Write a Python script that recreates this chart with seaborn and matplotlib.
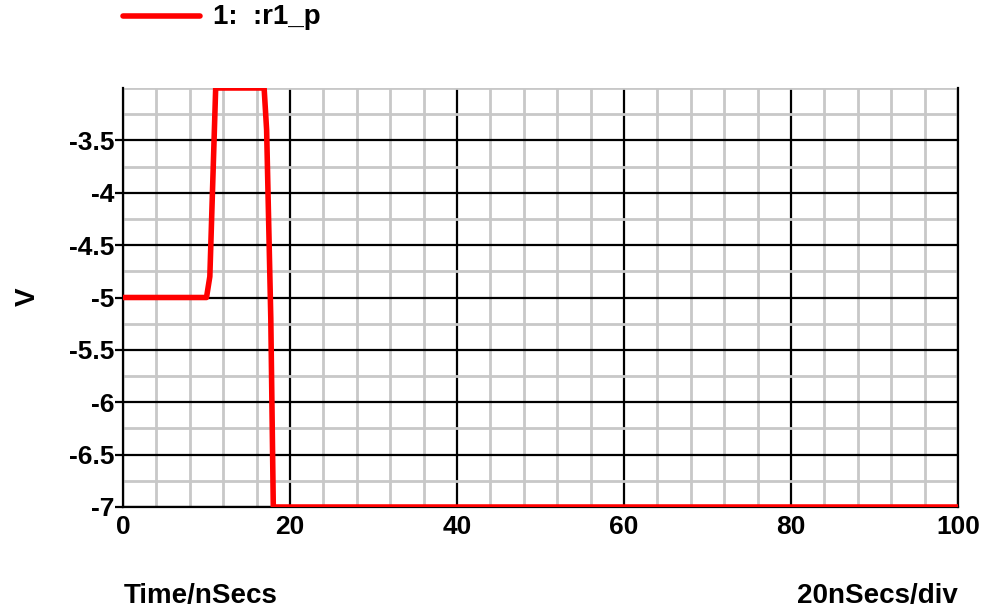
import matplotlib
matplotlib.use("Agg")
import matplotlib.pyplot as plt
import seaborn as sns
import pandas as pd
from matplotlib.lines import Line2D
from matplotlib.ticker import MultipleLocator

sns.set_style("white")
plt.rcParams['font.family'] = ['Liberation Sans', 'DejaVu Sans']
plt.rcParams['font.weight'] = 'bold'
plt.rcParams['text.color'] = 'black'
plt.rcParams['xtick.color'] = 'black'
plt.rcParams['ytick.color'] = 'black'
plt.rcParams['axes.labelcolor'] = 'black'

# data (time in ns, voltage in V)
time_ns = [0.0, 10.0, 10.4, 11.1, 16.9, 17.2, 17.7, 18.0, 100.0]
volts = [-5.0, -5.0, -4.8, -3.0, -3.0, -3.4, -5.2, -7.0, -7.0]
series_name = "1:  :r1_p"
x_ticks = [0, 20, 40, 60, 80, 100]
y_ticks = [-7, -6.5, -6, -5.5, -5, -4.5, -4, -3.5]
y_tick_labels = ["-7", "-6.5", "-6", "-5.5", "-5", "-4.5", "-4", "-3.5"]

df = pd.DataFrame({"t": time_ns, "v": volts})

fig = plt.figure(figsize=(9.82, 6.10), dpi=100)
ax = fig.add_axes([123/982, 1-507/610, (958-123)/982, (507-88)/610])

ax.set_xlim(0, 100)
ax.set_ylim(-7, -3)
ax.xaxis.set_minor_locator(MultipleLocator(4))
ax.yaxis.set_minor_locator(MultipleLocator(0.25))
ax.set_xticks(x_ticks)
ax.set_yticks(y_ticks)
ax.set_yticklabels(y_tick_labels)
ax.grid(which='minor', color='#c8c8c8', linewidth=2.0, zorder=0)
ax.grid(which='major', color='black', linewidth=1.6, zorder=1)
ax.set_axisbelow(True)

sns.lineplot(data=df, x="t", y="v", ax=ax, color='#ff0000', linewidth=4.0,
             sort=False, estimator=None, zorder=3, legend=False,
             solid_joinstyle='round', solid_capstyle='butt')

for s in ['left', 'bottom', 'right']:
    ax.spines[s].set_visible(True)
    ax.spines[s].set_color('black')
    ax.spines[s].set_linewidth(1.6)
ax.spines['top'].set_visible(False)

ax.tick_params(axis='y', which='major', direction='out', length=6, width=1.6,
               pad=0, labelsize=19, left=True, colors='black')
ax.tick_params(axis='x', which='major', length=0, pad=6, labelsize=19, colors='black')
ax.tick_params(which='minor', length=0)
for lab in ax.get_xticklabels() + ax.get_yticklabels():
    lab.set_fontweight('bold')

ax.set_xlabel("")
ax.set_ylabel("")
fig.text(28/982, 1-297/610, "V", fontsize=20, fontweight='bold', color='black',
         ha='center', va='center', rotation=90)

fig.text(124/982, 1-596/610, "Time/nSecs", fontsize=20, fontweight='bold',
         color='black', ha='left', va='center')
fig.text(958/982, 1-596/610, "20nSecs/div", fontsize=20, fontweight='bold',
         color='black', ha='right', va='center')

# legend
fig.add_artist(Line2D([123/982, 200/982], [1-16/610, 1-16/610], color='#ff0000',
                      linewidth=4.0, solid_capstyle='round', transform=fig.transFigure))
fig.text(213/982, 1-17/610, series_name, fontsize=20, fontweight='bold',
         color='black', ha='left', va='center')

fig.savefig("out.png", dpi=100)
